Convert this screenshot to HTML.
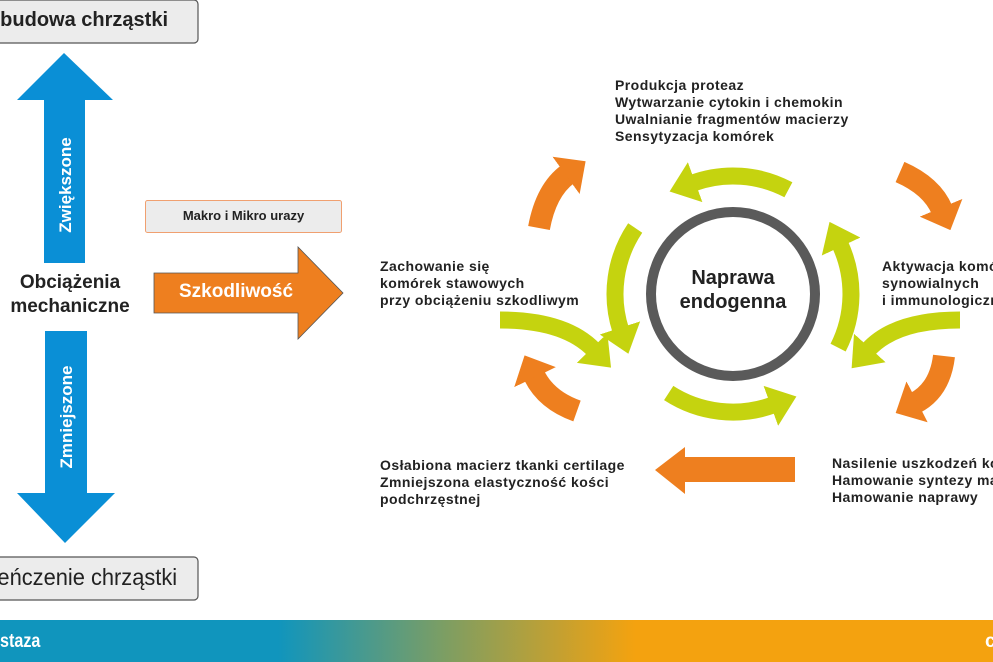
<!DOCTYPE html>
<html><head><meta charset="utf-8"><style>
html,body{margin:0;padding:0;background:#fff;}
body{width:993px;height:662px;position:relative;overflow:hidden;font-family:"Liberation Sans",Arial,sans-serif;}
#w{position:absolute;left:0;top:0;width:993px;height:662px;overflow:hidden;}
.t{position:absolute;font-weight:bold;font-size:14px;line-height:17px;color:#222;white-space:nowrap;letter-spacing:0.45px}
</style></head><body><div id="w">
<svg width="993" height="662" style="position:absolute;left:0;top:0">
<defs>
<linearGradient id="bar" x1="0" x2="993" y1="0" y2="0" gradientUnits="userSpaceOnUse">
<stop offset="0" stop-color="#1095bd"/><stop offset="0.28" stop-color="#1095bd"/>
<stop offset="0.45" stop-color="#7e9e62"/><stop offset="0.64" stop-color="#f4a20f"/><stop offset="1" stop-color="#f4a20f"/>
</linearGradient>
<marker id="mg" viewBox="0 0 10 10" preserveAspectRatio="none" refX="1" refY="5" markerWidth="1.6" markerHeight="2.5" orient="auto" markerUnits="strokeWidth"><path d="M0,0 L10,5 L0,10z" fill="#c5d30f"/></marker>
<marker id="mo" viewBox="0 0 10 10" preserveAspectRatio="none" refX="1" refY="5" markerWidth="1.1" markerHeight="2.1" orient="auto" markerUnits="strokeWidth"><path d="M0,0 L10,5 L0,10z" fill="#ee7f1f"/></marker>
</defs>
<rect x="-10" y="0" width="208" height="43" rx="4" fill="#ececec" stroke="#555" stroke-width="1.2"/>
<rect x="-10" y="557" width="208" height="43" rx="4" fill="#ececec" stroke="#555" stroke-width="1.2"/>
<polygon points="64,53 113,100 85,100 85,263 44,263 44,100 17,100" fill="#0a8fd6"/>
<polygon points="45,331 87,331 87,493 115,493 65,543 17,493 45,493" fill="#0a8fd6"/>
<text transform="translate(71,185) rotate(-90)" text-anchor="middle" font-family="Liberation Sans" font-weight="bold" font-size="17" fill="#fff">Zwiększone</text>
<text transform="translate(72,417) rotate(-90)" text-anchor="middle" font-family="Liberation Sans" font-weight="bold" font-size="17" fill="#fff">Zmniejszone</text>
<rect x="145.5" y="200.5" width="196" height="32" rx="2" fill="#ececec" stroke="#f0a070" stroke-width="1"/>
<polygon points="154,273 298,273 298,247 343,293 298,339 298,313 154,313" fill="#ee7f1f" stroke="#555" stroke-width="0.8"/>
<circle cx="733" cy="294" r="82" fill="none" stroke="#5a5a5a" stroke-width="10"/>
<g fill="none" stroke="#c5d30f" stroke-width="17" marker-end="url(#mg)">
<path d="M788.4,189.8 A118,118 0 0 0 692.6,183.1"/>
<path d="M635.2,228 A118,118 0 0 0 620.8,330.5"/>
<path d="M668.7,393 A118,118 0 0 0 773.4,404.9"/>
<path d="M838.1,347.6 A118,118 0 0 0 839.9,244.1"/>
<path d="M500,320 Q565,320 594,350"/>
<path d="M960,320 Q895,320 868,350"/>
</g>
<g fill="none" stroke="#ee7f1f" stroke-width="22" marker-end="url(#mo)">
<path d="M539,228 Q546,190 568,174"/>
<path d="M900,172 Q932,186 942,210"/>
<path d="M944,356 Q940,390 915,403"/>
<path d="M577,411 Q546,400 534,375"/>
</g>
<polygon points="795,457 685,457 685,447 655,470 685,494 685,482 795,482" fill="#ee7f1f"/>
<rect x="0" y="620" width="993" height="42" fill="url(#bar)"/>
</svg>
<div style="position:absolute;right:825px;top:9px;font-weight:bold;font-size:20px;color:#222;white-space:nowrap">Przebudowa chrząstki</div>
<div style="position:absolute;right:816px;top:564px;font-size:23px;color:#222;white-space:nowrap;transform:scaleX(0.95);transform-origin:right">Ścieńczenie chrząstki</div>
<div style="position:absolute;left:0;width:140px;top:271px;text-align:center;font-weight:bold;font-size:19px;line-height:24px;color:#222">Obciążenia<br>mechaniczne</div>
<div style="position:absolute;left:145px;width:197px;top:208px;text-align:center;font-weight:bold;font-size:13px;color:#222">Makro i Mikro urazy</div>
<div style="position:absolute;left:154px;width:164px;top:281px;text-align:center;font-weight:bold;font-size:19px;color:#fff">Szkodliwość</div>
<div style="position:absolute;left:648px;width:170px;top:266px;text-align:center;font-weight:bold;font-size:20px;line-height:24px;color:#222">Naprawa<br>endogenna</div>
<div class="t" style="left:615px;top:77px">Produkcja proteaz<br>Wytwarzanie cytokin i chemokin<br>Uwalnianie fragmentów macierzy<br>Sensytyzacja komórek</div>
<div class="t" style="left:380px;top:258px">Zachowanie się<br>komórek stawowych<br>przy obciążeniu szkodliwym</div>
<div class="t" style="left:882px;top:258px;width:111px;overflow:hidden">Aktywacja komórek<br>synowialnych<br>i immunologicznych</div>
<div class="t" style="left:380px;top:457px">Osłabiona macierz tkanki certilage<br>Zmniejszona elastyczność kości<br>podchrzęstnej</div>
<div class="t" style="left:832px;top:455px;width:161px;overflow:hidden">Nasilenie uszkodzeń komórek<br>Hamowanie syntezy macierzy<br>Hamowanie naprawy</div>
<div style="position:absolute;left:0;top:631px;font-size:19px;font-weight:bold;color:#fff;transform:scaleX(0.85);transform-origin:left">staza</div>
<div style="position:absolute;left:985px;top:631px;width:8px;overflow:hidden;font-size:19px;font-weight:bold;color:#fff">c</div>
</div></body></html>
